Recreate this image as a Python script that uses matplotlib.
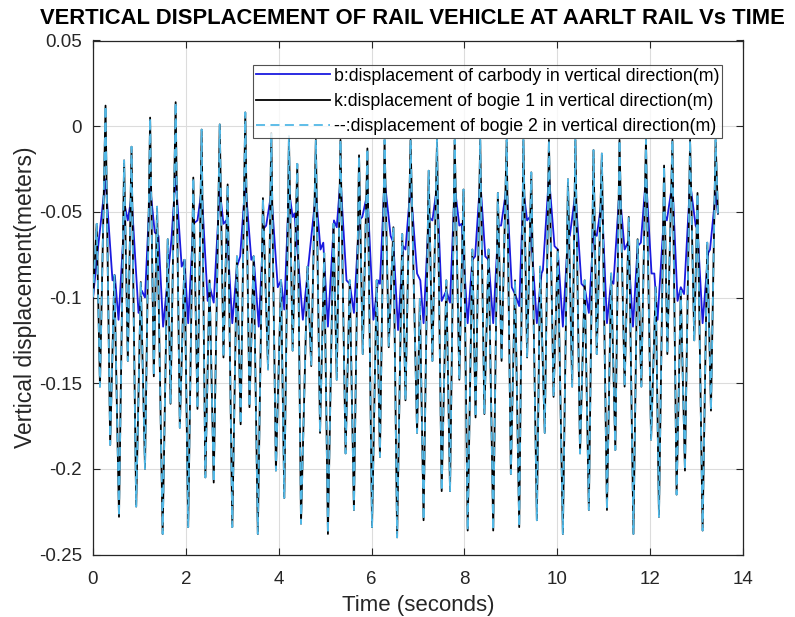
import matplotlib
matplotlib.use("Agg")
import matplotlib.pyplot as plt

plt.rcParams['font.family'] = ['Liberation Sans', 'DejaVu Sans']

# ---- data ----
bogie_t = [0.00, 0.08, 0.15, 0.27, 0.37, 0.46, 0.56, 0.67, 0.75, 0.83, 0.93, 1.03, 1.12, 1.23, 1.31, 1.38,
           1.50, 1.61, 1.67, 1.78, 1.87, 1.97, 2.05, 2.16, 2.25, 2.34, 2.42, 2.51, 2.60, 2.73, 2.81, 2.90,
           3.00, 3.10, 3.18, 3.28, 3.37, 3.46, 3.55, 3.66, 3.77, 3.84, 3.94, 4.05, 4.12, 4.22, 4.30, 4.40,
           4.48, 4.62, 4.70, 4.80, 4.89, 4.98, 5.06, 5.18, 5.25, 5.33, 5.44, 5.53, 5.62, 5.73, 5.81, 5.91,
           6.01, 6.11, 6.18, 6.28, 6.37, 6.47, 6.55, 6.66, 6.73, 6.84, 6.98, 7.04, 7.12, 7.23, 7.31, 7.41,
           7.51, 7.61, 7.69, 7.79, 7.89, 7.98, 8.07, 8.17, 8.24, 8.34, 8.43, 8.52, 8.62, 8.72, 8.80, 8.91,
           9.00, 9.09, 9.18, 9.27, 9.35, 9.44, 9.56, 9.63, 9.73, 9.82, 9.92, 10.01, 10.12, 10.23, 10.32,
           10.39, 10.49, 10.59, 10.68, 10.78, 10.85, 10.96, 11.07, 11.16, 11.25, 11.34, 11.45, 11.54, 11.64,
           11.73, 11.81, 11.91, 12.02, 12.12, 12.19, 12.30, 12.37, 12.48, 12.57, 12.66, 12.75, 12.86, 12.95,
           13.02, 13.13, 13.23, 13.31, 13.41, 13.46]
bogie1_y = [-0.100, -0.057, -0.152, 0.012, -0.186, -0.087, -0.228, -0.020, -0.137, -0.012, -0.222, -0.091,
            -0.200, 0.005, -0.146, -0.047, -0.238, -0.066, -0.162, 0.014, -0.176, -0.078, -0.234, -0.030,
            -0.165, -0.002, -0.205, -0.090, -0.208, 0.001, -0.135, -0.034, -0.234, -0.076, -0.174, 0.008,
            -0.164, -0.076, -0.238, -0.042, -0.142, -0.004, -0.201, -0.090, -0.217, -0.006, -0.131, -0.022,
            -0.232, -0.082, -0.140, -0.008, -0.179, -0.074, -0.238, -0.057, -0.148, -0.008, -0.191, -0.090,
            -0.224, -0.017, -0.133, -0.013, -0.234, -0.090, -0.193, -0.008, -0.129, -0.059, -0.240, -0.063,
            -0.160, -0.008, -0.179, -0.101, -0.230, -0.026, -0.137, -0.008, -0.213, -0.090, -0.213, -0.008,
            -0.148, -0.037, -0.236, -0.072, -0.170, -0.008, -0.168, -0.072, -0.236, -0.039, -0.137, -0.008,
            -0.203, -0.090, -0.234, -0.008, -0.135, -0.027, -0.230, -0.082, -0.179, -0.008, -0.158, -0.072,
            -0.238, -0.031, -0.152, -0.008, -0.191, -0.090, -0.224, -0.014, -0.133, -0.016, -0.224, -0.086,
            -0.189, -0.008, -0.152, -0.053, -0.238, -0.066, -0.152, -0.008, -0.183, -0.094, -0.228, -0.023,
            -0.133, -0.008, -0.215, -0.096, -0.201, -0.008, -0.125, -0.039, -0.236, -0.068, -0.166, -0.008,
            -0.051]
bogie2_y = list(bogie1_y)

carbody_t = [0.00, 0.12, 0.27, 0.42, 0.47, 0.55, 0.69, 0.75, 0.83, 0.98, 1.05, 1.12, 1.23, 1.33, 1.41, 1.51,
             1.66, 1.69, 1.78, 1.91, 1.97, 2.05, 2.16, 2.25, 2.34, 2.47, 2.52, 2.60, 2.73, 2.81, 2.87, 3.00,
             3.10, 3.17, 3.28, 3.41, 3.46, 3.57, 3.67, 3.73, 3.84, 3.98, 4.05, 4.12, 4.22, 4.30, 4.34, 4.52,
             4.62, 4.80, 4.90, 4.96, 5.06, 5.19, 5.25, 5.33, 5.46, 5.53, 5.62, 5.73, 5.80, 5.91, 6.04, 6.14,
             6.18, 6.28, 6.41, 6.47, 6.57, 6.68, 6.73, 6.84, 6.98, 7.05, 7.12, 7.23, 7.31, 7.41, 7.51, 7.61,
             7.69, 7.79, 7.89, 7.94, 8.07, 8.17, 8.23, 8.34, 8.45, 8.52, 8.62, 8.73, 8.79, 8.91, 9.02, 9.09,
             9.18, 9.27, 9.35, 9.41, 9.56, 9.66, 9.69, 9.82, 9.94, 10.01, 10.12, 10.23, 10.27, 10.39, 10.52,
             10.59, 10.68, 10.78, 10.85, 10.96, 11.07, 11.16, 11.21, 11.34, 11.45, 11.52, 11.63, 11.73, 11.80,
             11.91, 12.03, 12.09, 12.16, 12.30, 12.36, 12.48, 12.59, 12.66, 12.73, 12.86, 12.98, 13.02, 13.13,
             13.25, 13.29, 13.41, 13.46]
carbody_y = [-0.100, -0.068, -0.031, -0.090, -0.087, -0.113, -0.047, -0.055, -0.041, -0.109, -0.096, -0.100,
             -0.035, -0.062, -0.064, -0.117, -0.074, -0.066, -0.029, -0.082, -0.078, -0.115, -0.057, -0.055,
             -0.037, -0.102, -0.094, -0.103, -0.037, -0.057, -0.055, -0.115, -0.082, -0.076, -0.033, -0.078,
             -0.076, -0.117, -0.060, -0.058, -0.039, -0.094, -0.090, -0.107, -0.037, -0.053, -0.051, -0.113,
             -0.086, -0.039, -0.072, -0.068, -0.117, -0.055, -0.059, -0.031, -0.090, -0.092, -0.109, -0.055,
             -0.053, -0.039, -0.113, -0.090, -0.092, -0.031, -0.064, -0.068, -0.119, -0.070, -0.072, -0.035,
             -0.086, -0.090, -0.115, -0.053, -0.055, -0.035, -0.102, -0.096, -0.103, -0.035, -0.058, -0.057,
             -0.115, -0.078, -0.076, -0.031, -0.076, -0.078, -0.115, -0.058, -0.058, -0.035, -0.094, -0.098,
             -0.105, -0.037, -0.055, -0.053, -0.115, -0.086, -0.084, -0.029, -0.070, -0.072, -0.117, -0.064,
             -0.064, -0.039, -0.092, -0.094, -0.109, -0.062, -0.064, -0.043, -0.115, -0.090, -0.092, -0.037,
             -0.072, -0.068, -0.117, -0.070, -0.068, -0.029, -0.086, -0.086, -0.113, -0.051, -0.055, -0.033,
             -0.102, -0.094, -0.098, -0.033, -0.058, -0.060, -0.115, -0.074, -0.072, -0.039, -0.051]

legend_labels = ["b:displacement of carbody in vertical direction(m)",
                 "k:displacement of bogie 1 in vertical direction(m)",
                 "--:displacement of bogie 2 in vertical direction(m)"]
x_ticks = [0, 2, 4, 6, 8, 10, 12, 14]
y_ticks = [-0.25, -0.2, -0.15, -0.1, -0.05, 0, 0.05]
y_tick_labels = ["-0.25", "-0.2", "-0.15", "-0.1", "-0.05", "0", "0.05"]
title_text = "VERTICAL DISPLACEMENT OF RAIL VEHICLE AT AARLT RAIL Vs TIME"

# ---- figure ----
fig = plt.figure(figsize=(7.95, 6.17), dpi=100, facecolor='white')
ax = fig.add_axes([93/795, 1 - 554.5/617, 650/795, 514/617])

ax.plot(carbody_t, carbody_y, color='#1a1adf', lw=1.3, label=legend_labels[0], zorder=3)
ax.plot(bogie_t, bogie1_y, color='black', lw=1.3, label=legend_labels[1], zorder=4)
ax.plot(bogie_t, bogie2_y, color='#52b8e6', lw=1.3, ls=(0, (5, 3)), label=legend_labels[2], zorder=5)

ax.set_xlim(0, 14)
ax.set_ylim(-0.25, 0.05)
ax.set_xticks(x_ticks)
ax.set_yticks(y_ticks)
ax.set_yticklabels(y_tick_labels)
ax.grid(True, color='#dcdcdc', lw=0.8)
ax.set_axisbelow(True)
ax.tick_params(direction='in', top=True, right=True, labelsize=13.5, length=5, colors='#262626')
ax.tick_params(axis='x', pad=12)
ax.tick_params(axis='y', pad=8)
for s in ax.spines.values():
    s.set_color('#262626')
    s.set_linewidth(0.9)

ax.set_xlabel("Time (seconds)", fontsize=16, color='#262626', labelpad=5)
ax.set_ylabel("Vertical displacement(meters)", fontsize=16.5, color='#262626', labelpad=1)
fig.text(412/795, 1 - 19/617, title_text, ha='center', va='center',
         fontsize=15.8, fontweight='bold', color='black')

leg = ax.legend(loc='upper right', bbox_to_anchor=(629/650, (554.5-65)/514), borderaxespad=0,
                fontsize=12.8, frameon=True, fancybox=False, edgecolor='#262626',
                handlelength=4.2, handletextpad=0.2, labelspacing=0.47, borderpad=0.15)
leg.get_frame().set_linewidth(0.8)
leg.set_zorder(10)

fig.savefig("out.png", dpi=100, facecolor=fig.get_facecolor())
